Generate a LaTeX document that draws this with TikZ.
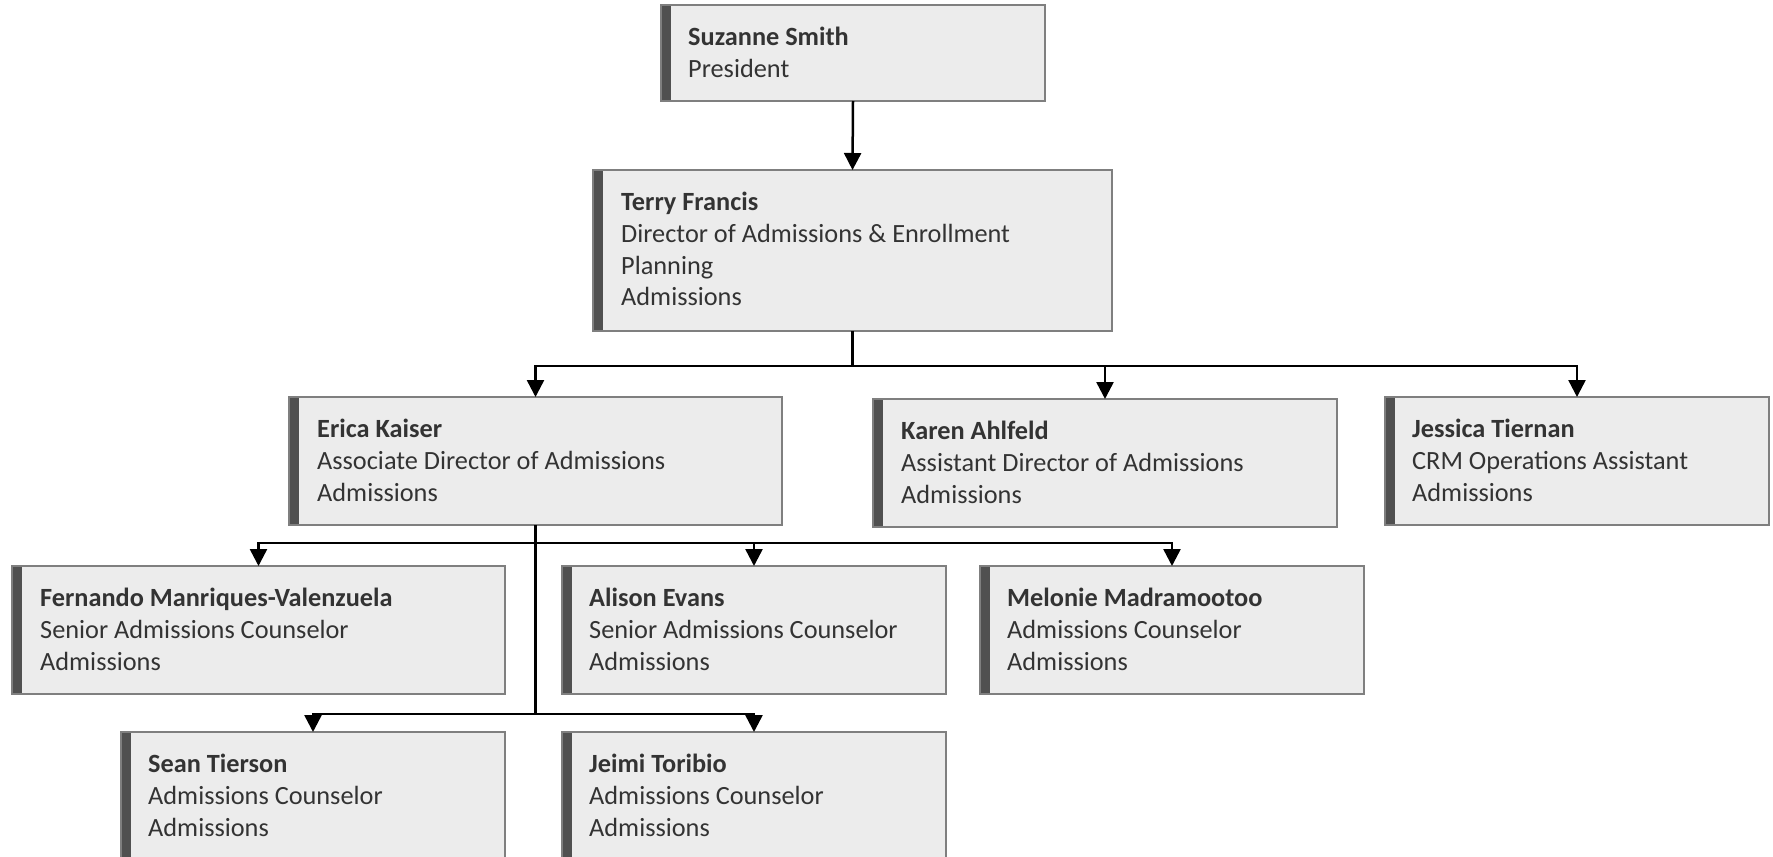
\documentclass[tikz,border=0pt]{standalone}
\usepackage{fontspec}
\setmainfont{Carlito}
\usetikzlibrary{arrows.meta}
\definecolor{boxfill}{HTML}{ECECEC}
\definecolor{boxline}{HTML}{7F7F7F}
\definecolor{barcol}{HTML}{505050}
\definecolor{txtcol}{HTML}{333333}
\begin{document}
\begin{tikzpicture}[x=1pt,y=-1pt,
  card/.style={draw=boxline, line width=2pt, fill=boxfill, anchor=north west, inner sep=0pt, outer sep=0pt,
    path picture={\fill[barcol] (path picture bounding box.north west) rectangle ([xshift=9.5pt]path picture bounding box.south west);}},
  lbl/.style={anchor=base west, inner sep=0pt, text=txtcol, font=\fontsize{26.3pt}{31.8pt}\selectfont},
  arr/.style={line width=2.5pt, -{Triangle[width=17pt,length=17pt]}}]
\useasboundingbox[fill=white] (0,0) rectangle (1773,857);

% boxes
\node[card, minimum width=384pt, minimum height=96pt] (suz) at (661,5) {};
\node[card, minimum width=519pt, minimum height=161pt] (ter) at (593,170) {};
\node[card, minimum width=493pt, minimum height=128pt] (eri) at (289,397) {};
\node[card, minimum width=464pt, minimum height=128pt] (kar) at (873,399) {};
\node[card, minimum width=384pt, minimum height=128pt] (jes) at (1385,397) {};
\node[card, minimum width=493pt, minimum height=128pt] (fer) at (12,566) {};
\node[card, minimum width=384pt, minimum height=128pt] (ali) at (562,566) {};
\node[card, minimum width=384pt, minimum height=128pt] (mel) at (980,566) {};
\node[card, minimum width=384pt, minimum height=128pt] (sea) at (121,732) {};
\node[card, minimum width=384pt, minimum height=128pt] (jei) at (562,732) {};

% texts
\node[lbl] (suzt) at (688,45.5) {\vtop{\hbox{\bfseries Suzanne Smith}\hbox{President}}};
\node[lbl] (tert) at (621,210.5) {\vtop{\hbox{\bfseries Terry Francis}\hbox{Director of Admissions \& Enrollment}\hbox{Planning}\hbox{Admissions}}};
\node[lbl] (erit) at (317,437.5) {\vtop{\hbox{\bfseries Erica Kaiser}\hbox{Associate Director of Admissions}\hbox{Admissions}}};
\node[lbl] (kart) at (901,439.5) {\vtop{\hbox{\bfseries Karen Ahlfeld}\hbox{Assistant Director of Admissions}\hbox{Admissions}}};
\node[lbl] (jest) at (1412,437.5) {\vtop{\hbox{\bfseries Jessica Tiernan}\hbox{CRM Operations Assistant}\hbox{Admissions}}};
\node[lbl] (fert) at (40,606.5) {\vtop{\hbox{\bfseries Fernando Manriques-Valenzuela}\hbox{Senior Admissions Counselor}\hbox{Admissions}}};
\node[lbl] (alit) at (589,606.5) {\vtop{\hbox{\bfseries Alison Evans}\hbox{Senior Admissions Counselor}\hbox{Admissions}}};
\node[lbl] (melt) at (1007,606.5) {\vtop{\hbox{\bfseries Melonie Madramootoo}\hbox{Admissions Counselor}\hbox{Admissions}}};
\node[lbl] (seat) at (148,772.5) {\vtop{\hbox{\bfseries Sean Tierson}\hbox{Admissions Counselor}\hbox{Admissions}}};
\node[lbl] (jeit) at (589,772.5) {\vtop{\hbox{\bfseries Jeimi Toribio}\hbox{Admissions Counselor}\hbox{Admissions}}};

% connectors
\draw[arr] (suz.south) -- (ter.north);
\draw[arr] (ter.south) -- ++(0,35) -| (eri.north);
\draw[arr] (ter.south) -- ++(0,35) -| (kar.north);
\draw[arr] (ter.south) -- ++(0,35) -| (jes.north);
\draw[arr] (eri.south) -- ++(0,18) -| (fer.north);
\draw[arr] (eri.south) -- ++(0,18) -| (ali.north);
\draw[arr] (eri.south) -- ++(0,18) -| (mel.north);
\draw[arr] (eri.south) -- ++(0,189) -| (sea.north);
\draw[arr] (eri.south) -- ++(0,189) -| (jei.north);
\end{tikzpicture}
\end{document}
